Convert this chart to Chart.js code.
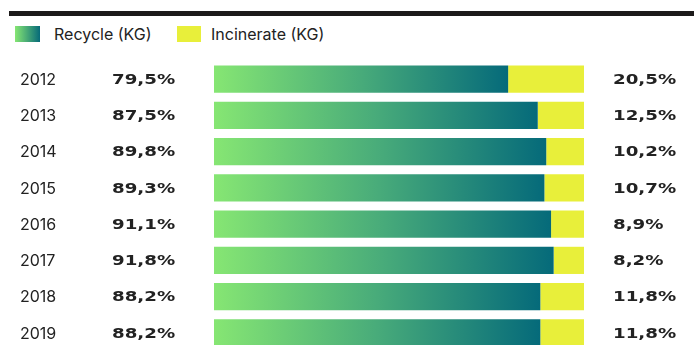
<!DOCTYPE html>
<html>
<head>
<meta charset="utf-8">
<script src="https://cdn.jsdelivr.net/npm/chart.js@4.4.1/dist/chart.umd.min.js"></script>
<style>
    html, body { margin: 0; padding: 0; width: 694px; height: 345px; overflow: hidden; background: #fff; }
    .rule { position: absolute; left: 9px; top: 11px; width: 685px; height: 5px; background: #1c1a1a; }
    .legend { position: absolute; top: 26px; left: 15px; font: 16px Inter, sans-serif; color: #222; }
    .legend span { position: absolute; top: 0; white-space: nowrap; line-height: 16px; }
    .box { width: 25px; height: 16px; }
    #wrap { position: absolute; left: 0; top: 50px; width: 694px; height: 310px; }
</style>
</head>
<body>
<div class="rule"></div>
<div class="legend">
    <span class="box" style="left:0; background: linear-gradient(to right, #86e673, #066a79);"></span>
    <span style="left:39px;">Recycle (KG)</span>
    <span class="box" style="left:162px; width:24px; background:#e8ef3a;"></span>
    <span style="left:196px;">Incinerate (KG)</span>
</div>
<div id="wrap"><canvas id="grafico"></canvas></div>
<script>
// Datos del gráfico
const anios = ['2012', '2013', '2014', '2015', '2016', '2017', '2018', '2019'];
const reciclado = [79.5, 87.5, 89.8, 89.3, 91.1, 91.8, 88.2, 88.2];
const incinerado = [20.5, 12.5, 10.2, 10.7, 8.9, 8.2, 11.8, 11.8];

const fmt = v => v.toFixed(1).replace('.', ',') + '%';

// Degradado propio de cada barra, desde 0 hasta su valor
function degradado(context) {
    const chart = context.chart;
    const xs = chart.scales.x;
    if (!xs || context.dataIndex === undefined) return '#43a87a';
    const x0 = xs.getPixelForValue(0);
    const x1 = xs.getPixelForValue(reciclado[context.dataIndex]);
    if (!isFinite(x0) || !isFinite(x1) || x1 <= x0) return '#43a87a';
    const g = chart.ctx.createLinearGradient(x0, 0, x1, 0);
    g.addColorStop(0, '#86e673');
    g.addColorStop(0.5, '#48ab7a');
    g.addColorStop(1, '#056a7a');
    return g;
}

// Textos a los lados de las barras
const etiquetas = {
    id: 'etiquetas',
    afterDatasetsDraw(chart) {
        const ctx = chart.ctx;
        const meta = chart.getDatasetMeta(0);
        ctx.save();
        ctx.textBaseline = 'middle';
        ctx.fillStyle = '#222';
        meta.data.forEach((bar, i) => {
            const y = bar.y + 1;
            ctx.font = '16px Inter, sans-serif';
            ctx.fillText(anios[i], 20, y);

            ctx.font = 'bold 14px "DejaVu Sans", sans-serif';
            ctx.save();
            ctx.translate(112, y);
            ctx.scale(1.3, 1);
            ctx.fillText(fmt(reciclado[i]), 0, 0);
            ctx.restore();

            ctx.save();
            ctx.translate(613, y);
            ctx.scale(1.3, 1);
            ctx.fillText(fmt(incinerado[i]), 0, 0);
            ctx.restore();
        });
        ctx.restore();
    }
};

new Chart(document.getElementById('grafico'), {
    type: 'bar',
    data: {
        labels: anios,
        datasets: [{
            label: 'Recycle (KG)',
            data: reciclado,
            backgroundColor: degradado,
            borderWidth: 0,
            barPercentage: 0.75,
            categoryPercentage: 1
        }, {
            label: 'Incinerate (KG)',
            data: incinerado,
            backgroundColor: '#e8ef3a',
            borderWidth: 0,
            barPercentage: 0.75,
            categoryPercentage: 1
        }]
    },
    options: {
        indexAxis: 'y',
        responsive: true,
        maintainAspectRatio: false,
        animation: false,
        layout: { padding: { left: 214, right: 110, top: 11, bottom: 9 } },
        plugins: { legend: { display: false }, tooltip: { enabled: false } },
        scales: {
            x: { stacked: true, min: 0, max: 100, display: false },
            y: { stacked: true, display: false }
        }
    },
    plugins: [etiquetas]
});
</script>
</body>
</html>
